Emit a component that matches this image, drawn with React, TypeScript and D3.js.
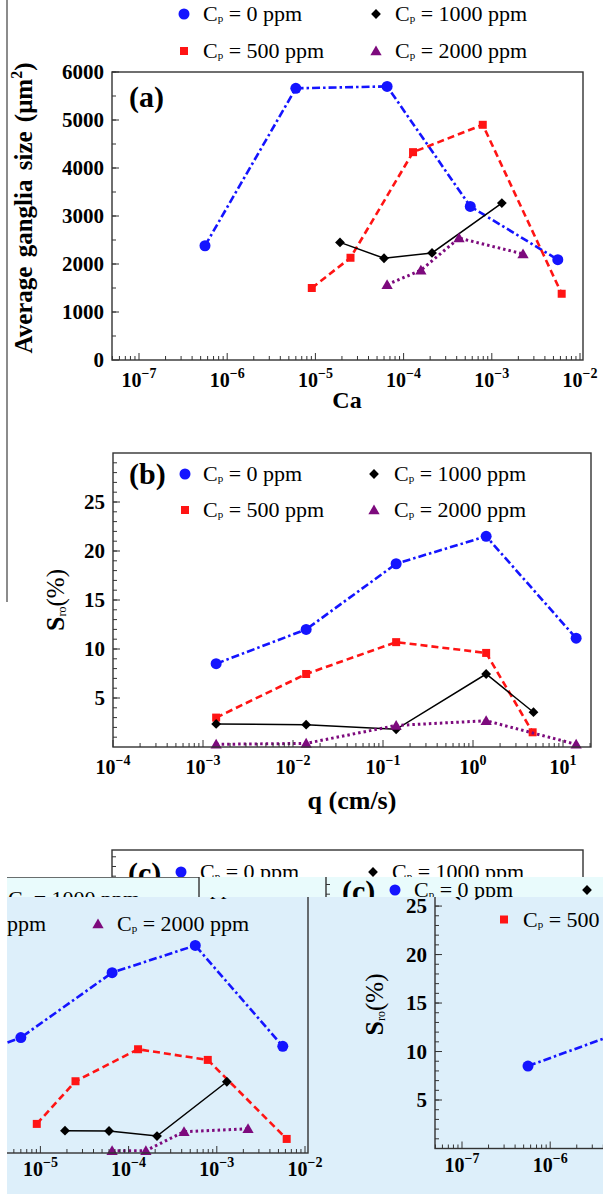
import React from "react";
import * as d3 from "d3";

const FONT = "'Liberation Serif','Times New Roman',Times,serif";

// ---------- panel (a): average ganglia size vs Ca ----------
const caA0 = [5.6e-7, 6.0e-6, 6.5e-5, 5.7e-4, 5.6e-3];
const sizeA0 = [2380, 5660, 5700, 3200, 2090];
const caA500 = [9.1e-6, 2.5e-5, 1.28e-4, 7.9e-4, 6.2e-3];
const sizeA500 = [1500, 2130, 4330, 4900, 1380];
const caA1000 = [1.9e-5, 6.0e-5, 2.1e-4, 1.3e-3];
const sizeA1000 = [2450, 2120, 2230, 3270];
const caA2000 = [6.5e-5, 1.57e-4, 4.25e-4, 2.26e-3];
const sizeA2000 = [1570, 1870, 2540, 2210];

// ---------- panel (b): Sro vs q ----------
const qB0 = [1.4e-3, 1.4e-2, 0.14, 1.4, 14];
const sroB0 = [8.5, 12.0, 18.7, 21.5, 11.1];
const qB500 = [1.4e-3, 1.4e-2, 0.14, 1.4, 4.6];
const sroB500 = [3.0, 7.45, 10.7, 9.6, 1.5];
const qB1000 = [1.4e-3, 1.4e-2, 0.14, 1.4, 4.7];
const sroB1000 = [2.35, 2.28, 1.8, 7.45, 3.55];
const qB2000 = [1.4e-3, 1.4e-2, 0.14, 1.4, 14];
const sroB2000 = [0.27, 0.37, 2.2, 2.68, 0.27];

// ---------- panel (c): Sro vs Ca ----------
const sroC0 = [8.5, 11.9, 18.6, 21.4, 11.0];
const sroC500 = [3.0, 7.4, 10.7, 9.6, 1.45];
const sroC1000 = [2.3, 2.27, 1.75, 7.35];
const sroC2000 = [0.24, 0.24, 2.2, 2.5];

const legendPpm = ["0", "500", "1000", "2000"];
const colors = ["#1414ff", "#ff1414", "#000000", "#7d0a7d"];
const dashes = ["8,3,2.5,3", "7,4", "", "2.5,3"];
const widths = [2.6, 2.6, 1.5, 3];
const markers = ["circle", "square", "diamond", "triangle"];

const yTicksA = [0, 1000, 2000, 3000, 4000, 5000, 6000];
const yTicksSro = [5, 10, 15, 20, 25];

function Marker({ type, x, y, color }: any) {
  if (type === "circle") return <circle cx={x} cy={y} r={5.5} fill={color} />;
  if (type === "square") return <rect x={x - 4} y={y - 4} width={8} height={8} fill={color} />;
  if (type === "diamond")
    return <path d={d3.symbol(d3.symbolSquare, 48)() as string} transform={`translate(${x},${y}) rotate(45)`} fill={color} />;
  return <path d={d3.symbol(d3.symbolTriangle, 55)() as string} transform={`translate(${x},${y + 1})`} fill={color} />;
}

function Series({ xs, ys, x, y, i }: any) {
  const pts: [number, number][] = xs.map((v: number, j: number) => [x(v), y(ys[j])]);
  const line = d3.line();
  return (
    <g>
      <path d={line(pts) as string} fill="none" stroke={colors[i]} strokeWidth={widths[i]} strokeDasharray={dashes[i] || undefined} />
      {pts.map((p, j) => <Marker key={j} type={markers[i]} x={p[0]} y={p[1]} color={colors[i]} />)}
    </g>
  );
}

function LogAxisX({ x, x0, x1, yAxis, labelDy }: any) {
  const lo = x.invert(x0), hi = x.invert(x1);
  const kLo = Math.floor(Math.log10(lo)), kHi = Math.ceil(Math.log10(hi));
  const majors: { v: number; k: number }[] = [];
  const minors: number[] = [];
  for (let k = kLo; k <= kHi; k++) {
    for (let m = 1; m <= 9; m++) {
      const v = m * Math.pow(10, k);
      if (v < lo * 0.999 || v > hi * 1.001) continue;
      if (m === 1) majors.push({ v, k });
      else minors.push(v);
    }
  }
  return (
    <g>
      {minors.map((v, j) => <line key={"m" + j} x1={x(v)} x2={x(v)} y1={yAxis} y2={yAxis - 4} stroke="#333" strokeWidth={1} />)}
      {majors.map(({ v, k }) => (
        <g key={"M" + k}>
          <line x1={x(v)} x2={x(v)} y1={yAxis} y2={yAxis - 7} stroke="#333" strokeWidth={1} />
          <text x={x(v)} y={yAxis + labelDy} textAnchor="middle" fontWeight="bold" fontSize={20} fontFamily={FONT}>
            10<tspan fontSize={14} dy={-9}>{k < 0 ? "\u2212" + -k : String(k)}</tspan>
          </text>
        </g>
      ))}
    </g>
  );
}

function LinAxisY({ y, xAxis, labels, minorStep, maxV, showZero }: any) {
  const minors = d3.range(minorStep, maxV + 1e-9, minorStep);
  return (
    <g>
      {minors.map((v: number, j: number) => <line key={"m" + j} x1={xAxis} x2={xAxis + 4} y1={y(v)} y2={y(v)} stroke="#333" strokeWidth={1} />)}
      {labels.map((v: number) => (
        <g key={v}>
          <line x1={xAxis} x2={xAxis + 7} y1={y(v)} y2={y(v)} stroke="#333" strokeWidth={1} />
          {(showZero || v !== 0) && (
            <text x={xAxis - 8} y={y(v) + 7} textAnchor="end" fontWeight="bold" fontSize={21} fontFamily={FONT}>{v}</text>
          )}
        </g>
      ))}
    </g>
  );
}

function LegendItem({ i, mx, tx, y }: any) {
  return (
    <g>
      <Marker type={markers[i]} x={mx} y={y} color={colors[i]} />
      <text x={tx} y={y + 7} fontSize={22} fontFamily={FONT}>
        C<tspan fontSize={11} dy={1}>p</tspan><tspan dy={-1}>{" = " + legendPpm[i] + " ppm"}</tspan>
      </text>
    </g>
  );
}

function Legend({ c1m, c1t, c2m, c2t, r1, r2 }: any) {
  return (
    <g>
      <LegendItem i={0} mx={c1m} tx={c1t} y={r1} />
      <LegendItem i={2} mx={c2m} tx={c2t} y={r1} />
      <LegendItem i={1} mx={c1m} tx={c1t} y={r2} />
      <LegendItem i={3} mx={c2m} tx={c2t} y={r2} />
    </g>
  );
}

function SroLabel({ x, y }: any) {
  return (
    <text transform={`translate(${x},${y}) rotate(-90)`} textAnchor="middle" fontFamily={FONT}>
      <tspan fontWeight="bold" fontSize={26}>S</tspan>
      <tspan fontSize={12} dy={2}>ro</tspan>
      <tspan fontSize={25} dy={-2}>(%)</tspan>
    </text>
  );
}

// Panel (c), drawn in local coordinates (frame top = 0)
function PanelC({ tx, ty }: any) {
  const L = 112, R = 583, H = 288;
  const x = d3.scaleLog().domain([1e-7, 1e-2]).range([139, 580]);
  const y = d3.scaleLinear().domain([0, 29.7]).range([H, 0]);
  return (
    <g transform={`translate(${tx},${ty})`}>
      <Series xs={caA0} ys={sroC0} x={x} y={y} i={0} />
      <Series xs={caA500} ys={sroC500} x={x} y={y} i={1} />
      <Series xs={caA1000} ys={sroC1000} x={x} y={y} i={2} />
      <Series xs={caA2000} ys={sroC2000} x={x} y={y} i={3} />
      <rect x={L} y={0} width={R - L} height={H} fill="none" stroke="#333" strokeWidth={1.4} />
      <LogAxisX x={x} x0={L} x1={R} yAxis={H} labelDy={23} />
      <LinAxisY y={y} xAxis={L} labels={yTicksSro} minorStep={1} maxV={29} showZero={false} />
      <text x={128} y={33} fontWeight="bold" fontSize={30} fontFamily={FONT}>(c)</text>
      <Legend c1m={181} c1t={200} c2m={373} c2t={392} r1={22} r2={59} />
      <SroLabel x={L - 52} y={H / 2} />
      <text x={(L + R) / 2} y={H + 58} textAnchor="middle" fontWeight="bold" fontSize={24} fontFamily={FONT}>Ca</text>
    </g>
  );
}

export default function App() {
  // panel (a)
  const xA = d3.scaleLog().domain([1e-7, 1e-2]).range([139, 580]);
  const yA = d3.scaleLinear().domain([0, 6000]).range([360, 72]);
  // panel (b)
  const xB = d3.scaleLog().domain([1e-4, 10]).range([113, 563]);
  const yB = d3.scaleLinear().domain([0, 30]).range([747, 453]);

  return (
    <svg width={603} height={1194} style={{ position: "absolute", left: 0, top: 0, display: "block", background: "#fff" }} fontFamily={FONT}>
      <defs>
        <clipPath id="ov1"><rect x={7} y={877} width={596} height={20} /></clipPath>
        <clipPath id="ov2"><rect x={7} y={897} width={596} height={297} /></clipPath>
      </defs>
      <rect x={0} y={0} width={603} height={1194} fill="#fff" />
      <line x1={7} x2={7} y1={0} y2={602} stroke="#666" strokeWidth={1.5} />

      {/* ----- panel (a) ----- */}
      <Legend c1m={184} c1t={203} c2m={376} c2t={395} r1={14} r2={51} />
      <Series xs={caA0} ys={sizeA0} x={xA} y={yA} i={0} />
      <Series xs={caA500} ys={sizeA500} x={xA} y={yA} i={1} />
      <Series xs={caA1000} ys={sizeA1000} x={xA} y={yA} i={2} />
      <Series xs={caA2000} ys={sizeA2000} x={xA} y={yA} i={3} />
      <rect x={112} y={72} width={471} height={288} fill="none" stroke="#333" strokeWidth={1.4} />
      <LogAxisX x={xA} x0={112} x1={583} yAxis={360} labelDy={27} />
      <LinAxisY y={yA} xAxis={112} labels={yTicksA} minorStep={500} maxV={6000} showZero={true} />
      <text x={129} y={107} fontWeight="bold" fontSize={30}>(a)</text>
      <text transform="translate(32,208) rotate(-90)" textAnchor="middle" fontWeight="bold" fontSize={25} wordSpacing={3}>
        Average ganglia size (μm<tspan fontSize={16} dy={-10}>2</tspan><tspan dy={10}>)</tspan>
      </text>
      <text x={347} y={408} textAnchor="middle" fontWeight="bold" fontSize={24}>Ca</text>

      {/* ----- panel (b) ----- */}
      <Series xs={qB0} ys={sroB0} x={xB} y={yB} i={0} />
      <Series xs={qB500} ys={sroB500} x={xB} y={yB} i={1} />
      <Series xs={qB1000} ys={sroB1000} x={xB} y={yB} i={2} />
      <Series xs={qB2000} ys={sroB2000} x={xB} y={yB} i={3} />
      <rect x={113} y={453} width={478} height={294} fill="none" stroke="#333" strokeWidth={1.4} />
      <LogAxisX x={xB} x0={113} x1={591} yAxis={747} labelDy={27} />
      <LinAxisY y={yB} xAxis={113} labels={yTicksSro} minorStep={1} maxV={29} showZero={false} />
      <text x={129} y={484} fontWeight="bold" fontSize={30}>(b)</text>
      <Legend c1m={185} c1t={203} c2m={374} c2t={394} r1={474} r2={510} />
      <SroLabel x={64} y={600} />
      <text x={352} y={809} textAnchor="middle" fontWeight="bold" fontSize={26}>q (cm/s)</text>

      {/* ----- panel (c) and its overlapping copies ----- */}
      <PanelC tx={0} ty={850} />
      <rect x={7} y={877} width={596} height={20} fill="#e9fbfc" />
      <g clipPath="url(#ov1)">
        <PanelC tx={-384} ty={877} />
        <PanelC tx={214} ty={868} />
      </g>
      <rect x={7} y={897} width={596} height={297} fill="#ddeffa" />
      <g clipPath="url(#ov2)">
        <PanelC tx={-275} ty={865} />
        <PanelC tx={323} ty={860.5} />
      </g>
    </svg>
  );
}
